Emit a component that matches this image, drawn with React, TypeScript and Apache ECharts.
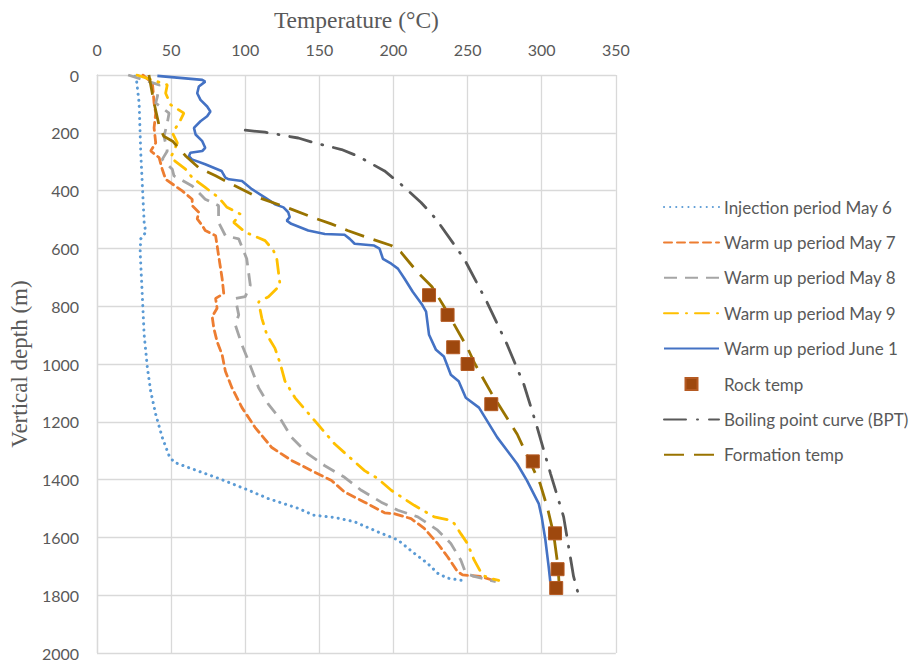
import React, { useEffect, useRef } from "react";
import * as echarts from "echarts";

// ---- Data (temperature °C vs vertical depth m) ----
const injDepth = [5, 12, 97, 269, 395, 510, 544, 567, 613, 727, 899, 1014, 1094, 1174, 1254, 1317, 1340, 1363, 1392, 1432, 1466, 1500, 1523, 1531, 1546, 1581, 1609, 1655, 1690, 1724, 1741, 1750];
const injTemp = [25.5, 26.5, 28.4, 29.5, 30.7, 31.8, 32.9, 29.5, 29.1, 30.2, 31.8, 34, 36.2, 39.6, 44, 48.6, 52, 64.2, 80, 100, 115.7, 136, 146, 160.4, 173.8, 189.5, 203, 214, 223, 229.8, 236.5, 248];

const may7Depth = [0, 29, 97, 132, 183, 235, 263, 286, 326, 361, 401, 430, 452, 475, 498, 521, 538, 556, 624, 704, 756, 773, 807, 836, 876, 922, 968, 1025, 1082, 1151, 1220, 1289, 1334, 1369, 1403, 1443, 1478, 1515, 1518, 1535, 1569, 1621, 1667, 1718, 1730, 1735, 1753];
const may7Temp = [31, 37.4, 38.5, 39.6, 38.5, 39.6, 36.2, 41.9, 44, 46.3, 57.5, 64.2, 64.2, 68.7, 67.6, 71, 73, 80, 82, 84.4, 85.5, 80, 81, 77.7, 78.8, 81, 84.4, 86.6, 91, 97.8, 106.7, 117.9, 131.3, 144.8, 158.2, 167, 180.5, 194, 200.7, 211.9, 220.8, 229.8, 236.5, 243.2, 246.6, 258.9, 270];

const may8Depth = [0, 34, 75, 97, 132, 166, 212, 263, 292, 326, 349, 384, 430, 452, 510, 556, 567, 636, 727, 767, 773, 830, 865, 934, 991, 1082, 1140, 1197, 1254, 1312, 1352, 1392, 1437, 1478, 1506, 1529, 1575, 1621, 1678, 1724, 1735, 1753];
const may8Temp = [21, 41.9, 40.7, 39.6, 48.6, 47.4, 45.2, 47.4, 44, 50.8, 51.9, 64.2, 73, 82, 82, 86.6, 95.6, 101, 103.4, 100, 93.3, 95.6, 93.3, 97.8, 102.3, 109, 115.7, 124.6, 131.3, 142.5, 153.7, 167, 178.3, 191.7, 203, 216.4, 229.8, 238.7, 245.4, 248.8, 254.4, 269];

const may9Depth = [0, 34, 63, 103, 132, 166, 200, 235, 286, 326, 355, 389, 424, 458, 481, 510, 544, 573, 607, 636, 727, 767, 785, 842, 899, 945, 997, 1059, 1117, 1197, 1277, 1369, 1395, 1437, 1489, 1529, 1541, 1552, 1587, 1621, 1678, 1730, 1741, 1749];
const may9Temp = [27, 47.4, 46.3, 49.7, 58.6, 55.3, 50.8, 54.2, 49.7, 59.7, 64.2, 73, 82, 87.7, 96.6, 92.2, 100, 113.4, 119, 121.3, 123.5, 115.7, 109, 111.2, 114.6, 120, 123.5, 126.8, 133.6, 147, 160.4, 180.5, 189, 198.5, 214, 227.5, 238.7, 241, 245.4, 249.9, 254.4, 260, 264.4, 271];

const june1Depth = [3, 17, 23, 40, 63, 86, 109, 126, 143, 160, 183, 206, 229, 252, 263, 269, 281, 292, 309, 332, 355, 361, 367, 395, 424, 447, 458, 475, 492, 504, 515, 538, 550, 553, 567, 584, 590, 601, 636, 653, 670, 704, 750, 796, 819, 899, 951, 974, 1037, 1060, 1117, 1151, 1254, 1300, 1346, 1403, 1483, 1529, 1609, 1701, 1753];
const june1Temp = [40.7, 71, 73, 68.7, 67.6, 69.8, 74.3, 76.5, 74.3, 69.8, 65.4, 66.5, 71, 73, 71, 63, 62, 64, 73, 84, 86.6, 89, 97.8, 104.5, 113.4, 120, 125.8, 129, 130, 128, 131, 142.5, 153.7, 167, 170.5, 173.8, 187, 190.6, 192.9, 198.5, 203, 207.4, 213, 219.5, 222, 224, 228.7, 234, 238.7, 244, 248.8, 257.7, 270, 276.8, 283.5, 290, 298, 300, 302.5, 304.7, 305.8];

const rockDepth = [762, 830, 942, 1000, 1139, 1337, 1586, 1710, 1775];
const rockTemp = [224, 236.5, 240.3, 250, 266, 294, 309, 310.7, 309.8];

const bptDepth = [191, 198, 218, 235, 258, 281, 332, 378, 441, 498, 636, 785, 934, 1071, 1220, 1380, 1529, 1735, 1798];
const bptTemp = [100, 113.4, 135.8, 147, 165, 176, 194, 205, 218.6, 228.7, 247.7, 263, 276.8, 288, 297, 306, 314.8, 321.5, 324.8];

const formDepth = [0, 97, 178, 212, 229, 281, 321, 349, 378, 424, 464, 492, 515, 538, 567, 590, 613, 681, 733, 800, 945, 1000, 1100, 1243, 1415, 1500, 1587, 1700, 1781];
const formTemp = [35, 38.5, 42, 45, 51, 60, 68.7, 80, 91, 109, 131, 145, 158, 169, 185, 198.5, 205, 216, 226, 234, 250, 255, 266, 283.5, 299, 304, 308, 311, 312];

const xTicks = { min: 0, max: 350, interval: 50 };
const yTicks = { min: 0, max: 2000, interval: 200 };

const seriesNames = [
  "Injection period May 6",
  "Warm up period May 7",
  "Warm up period May 8",
  "Warm up period May 9",
  "Warm up period June 1",
  "Rock temp",
  "Boiling point curve (BPT)",
  "Formation temp",
];

const pairs = (t: number[], d: number[]) => t.map((v, i) => [v, d[i]]);

export default function App() {
  const ref = useRef<HTMLDivElement>(null);
  useEffect(() => {
    if (!ref.current) return;
    const chart = echarts.init(ref.current, null, { renderer: "svg" });
    const line = (name: string, t: number[], d: number[], color: string, type: any, width = 2.6, cap: any = "butt") => ({
      name,
      type: "line",
      data: pairs(t, d),
      symbol: "none",
      showSymbol: false,
      lineStyle: { color, width, type, cap },
      itemStyle: { color },
      z: 3,
    });
    chart.setOption({
      animation: false,
      textStyle: { fontFamily: "Lato" },
      grid: { left: 94.3, top: 75, width: 521.5, height: 582, containLabel: false },
      xAxis: {
        type: "value",
        position: "top",
        min: xTicks.min,
        max: xTicks.max,
        interval: xTicks.interval,
        name: "Temperature (°C)",
        nameLocation: "middle",
        nameGap: 43,
        nameTextStyle: { fontFamily: "Liberation Serif", fontSize: 23.5, color: "#595959" },
        axisLine: { show: true, lineStyle: { color: "#d9d9d9", width: 1 } },
        axisTick: { show: false },
        axisLabel: { fontSize: 16, color: "#595959", margin: 18, fontFamily: "Lato" },
        splitLine: { show: true, lineStyle: { color: "#d9d9d9", width: 1.3 } },
      },
      yAxis: {
        type: "value",
        inverse: true,
        min: yTicks.min,
        max: yTicks.max,
        interval: yTicks.interval,
        name: "Vertical depth (m)",
        nameLocation: "middle",
        nameGap: 65,
        nameRotate: 90,
        nameTextStyle: { fontFamily: "Liberation Serif", fontSize: 23, color: "#595959" },
        axisLine: { show: true, lineStyle: { color: "#d9d9d9", width: 1.3 } },
        axisTick: { show: false },
        axisLabel: { fontSize: 16, color: "#595959", margin: 18, fontFamily: "Lato", formatter: (v: number) => String(v) },
        splitLine: { show: true, lineStyle: { color: "#d9d9d9", width: 1.3 } },
      },
      legend: {
        orient: "vertical",
        left: 663,
        top: 198.5,
        padding: 0,
        itemWidth: 55,
        itemHeight: 12,
        itemGap: 18.4,
        itemStyle: { opacity: 0 },
        textStyle: { fontSize: 17, color: "#595959", fontFamily: "Lato", lineHeight: 17 },
        data: seriesNames.map((n) =>
          n === "Rock temp"
            ? { name: n, icon: "path://M0 0H10V10H0Z", itemStyle: { opacity: 1 } }
            : { name: n }
        ),
      },
      series: [
        line(seriesNames[0], injTemp, injDepth, "#5B9BD5", [0.1, 6], 3, "round"),
        line(seriesNames[1], may7Temp, may7Depth, "#ED7D31", [8, 5], 2.8, "round"),
        line(seriesNames[2], may8Temp, may8Depth, "#A5A5A5", [13, 8], 2.8),
        line(seriesNames[3], may9Temp, may9Depth, "#FFC000", [14, 8, 1, 8], 2.8, "round"),
        line(seriesNames[4], june1Temp, june1Depth, "#4472C4", "solid", 2.6),
        {
          name: seriesNames[5],
          type: "scatter",
          data: pairs(rockTemp, rockDepth),
          symbol: "rect",
          symbolSize: 13,
          itemStyle: { color: "#9E480E", borderColor: "#B55A22", borderWidth: 1, opacity: 1 },
          z: 5,
        },
        line(seriesNames[6], bptTemp, bptDepth, "#595959", [22, 11, 1, 11], 2.8, "round"),
        line(seriesNames[7], formTemp, formDepth, "#997300", [20, 10], 2.8),
      ],
    });
    return () => chart.dispose();
  }, []);
  return (
    <div
      ref={ref}
      style={{ position: "absolute", left: 0, top: 0, width: 915, height: 661, background: "#fff" }}
    />
  );
}
